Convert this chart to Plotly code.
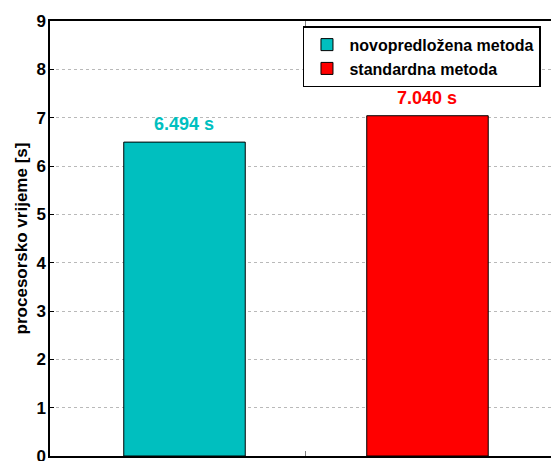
import plotly.graph_objects as go

# data
methods = ["novopredložena metoda", "standardna metoda"]
times = [6.494, 7.040]
positions = [0.8, 1.2]
colors = ["rgb(0,191,191)", "rgb(255,0,0)"]
labels = ["6.494 s", "7.040 s"]
y_ticks = [0, 1, 2, 3, 4, 5, 6, 7, 8, 9]

font_family = "Liberation Sans, Arial, Helvetica, sans-serif"

fig = go.Figure()

for name, t, p, c in zip(methods, times, positions, colors):
    fig.add_trace(go.Bar(
        x=[p], y=[t], width=0.2, name="<b>" + name + "</b>",
        marker=dict(color=c, line=dict(color="black", width=1)),
    ))

# value labels above the bars
for t, p, c, lab in zip(times, positions, colors, labels):
    fig.add_annotation(
        x=p, y=t, text="<b>" + lab + "</b>", showarrow=False,
        yanchor="bottom", yshift=6,
        font=dict(family=font_family, size=18, color=c),
    )

# invisible trace to get right-hand ticks
fig.add_trace(go.Scatter(x=[1], y=[0], yaxis="y2", mode="markers",
                         marker=dict(opacity=0), showlegend=False, hoverinfo="skip"))

# page body has an 8px margin, so the figure is a bit smaller than the window
fig.update_layout(
    width=551, height=453,
    margin=dict(l=42, r=0, t=13, b=5, autoexpand=False),
    plot_bgcolor="white", paper_bgcolor="white",
    font=dict(family=font_family, color="black"),
    barmode="overlay",
    showlegend=True,
    legend=dict(
        x=0.497, y=0.988, xanchor="left", yanchor="top",
        bordercolor="black", borderwidth=1.5, bgcolor="white",
        font=dict(size=16, family=font_family),
        tracegroupgap=0, itemwidth=35,
    ),
    xaxis=dict(
        range=[0.5786, 1.4165], tickvals=[1], showticklabels=False,
        ticks="inside", ticklen=5, tickcolor="gray",
        showline=True, linecolor="black", linewidth=1.5, mirror="ticks",
        showgrid=False, zeroline=False, automargin=False,
    ),
    yaxis=dict(
        range=[0, 9], tickvals=y_ticks,
        ticktext=["<b>%d</b>" % v for v in y_ticks],
        tickfont=dict(size=17, family=font_family),
        ticks="inside", ticklen=4, tickcolor="black",
        ticklabelstandoff=-1, ticklabeloverflow="allow",
        showline=True, linecolor="black", linewidth=1.5,
        showgrid=True, gridcolor="rgb(185,185,185)", griddash="dot", gridwidth=1,
        zeroline=False, automargin=False,
        title=dict(text="<b>procesorsko vrijeme [s]</b>", font=dict(size=17, family=font_family), standoff=4),
    ),
    yaxis2=dict(
        range=[0, 9], tickvals=y_ticks, overlaying="y", side="right",
        showticklabels=False, ticks="inside", ticklen=4, tickcolor="black",
        showline=False, showgrid=False, zeroline=False, automargin=False,
    ),
)

fig.write_html("out.html")
